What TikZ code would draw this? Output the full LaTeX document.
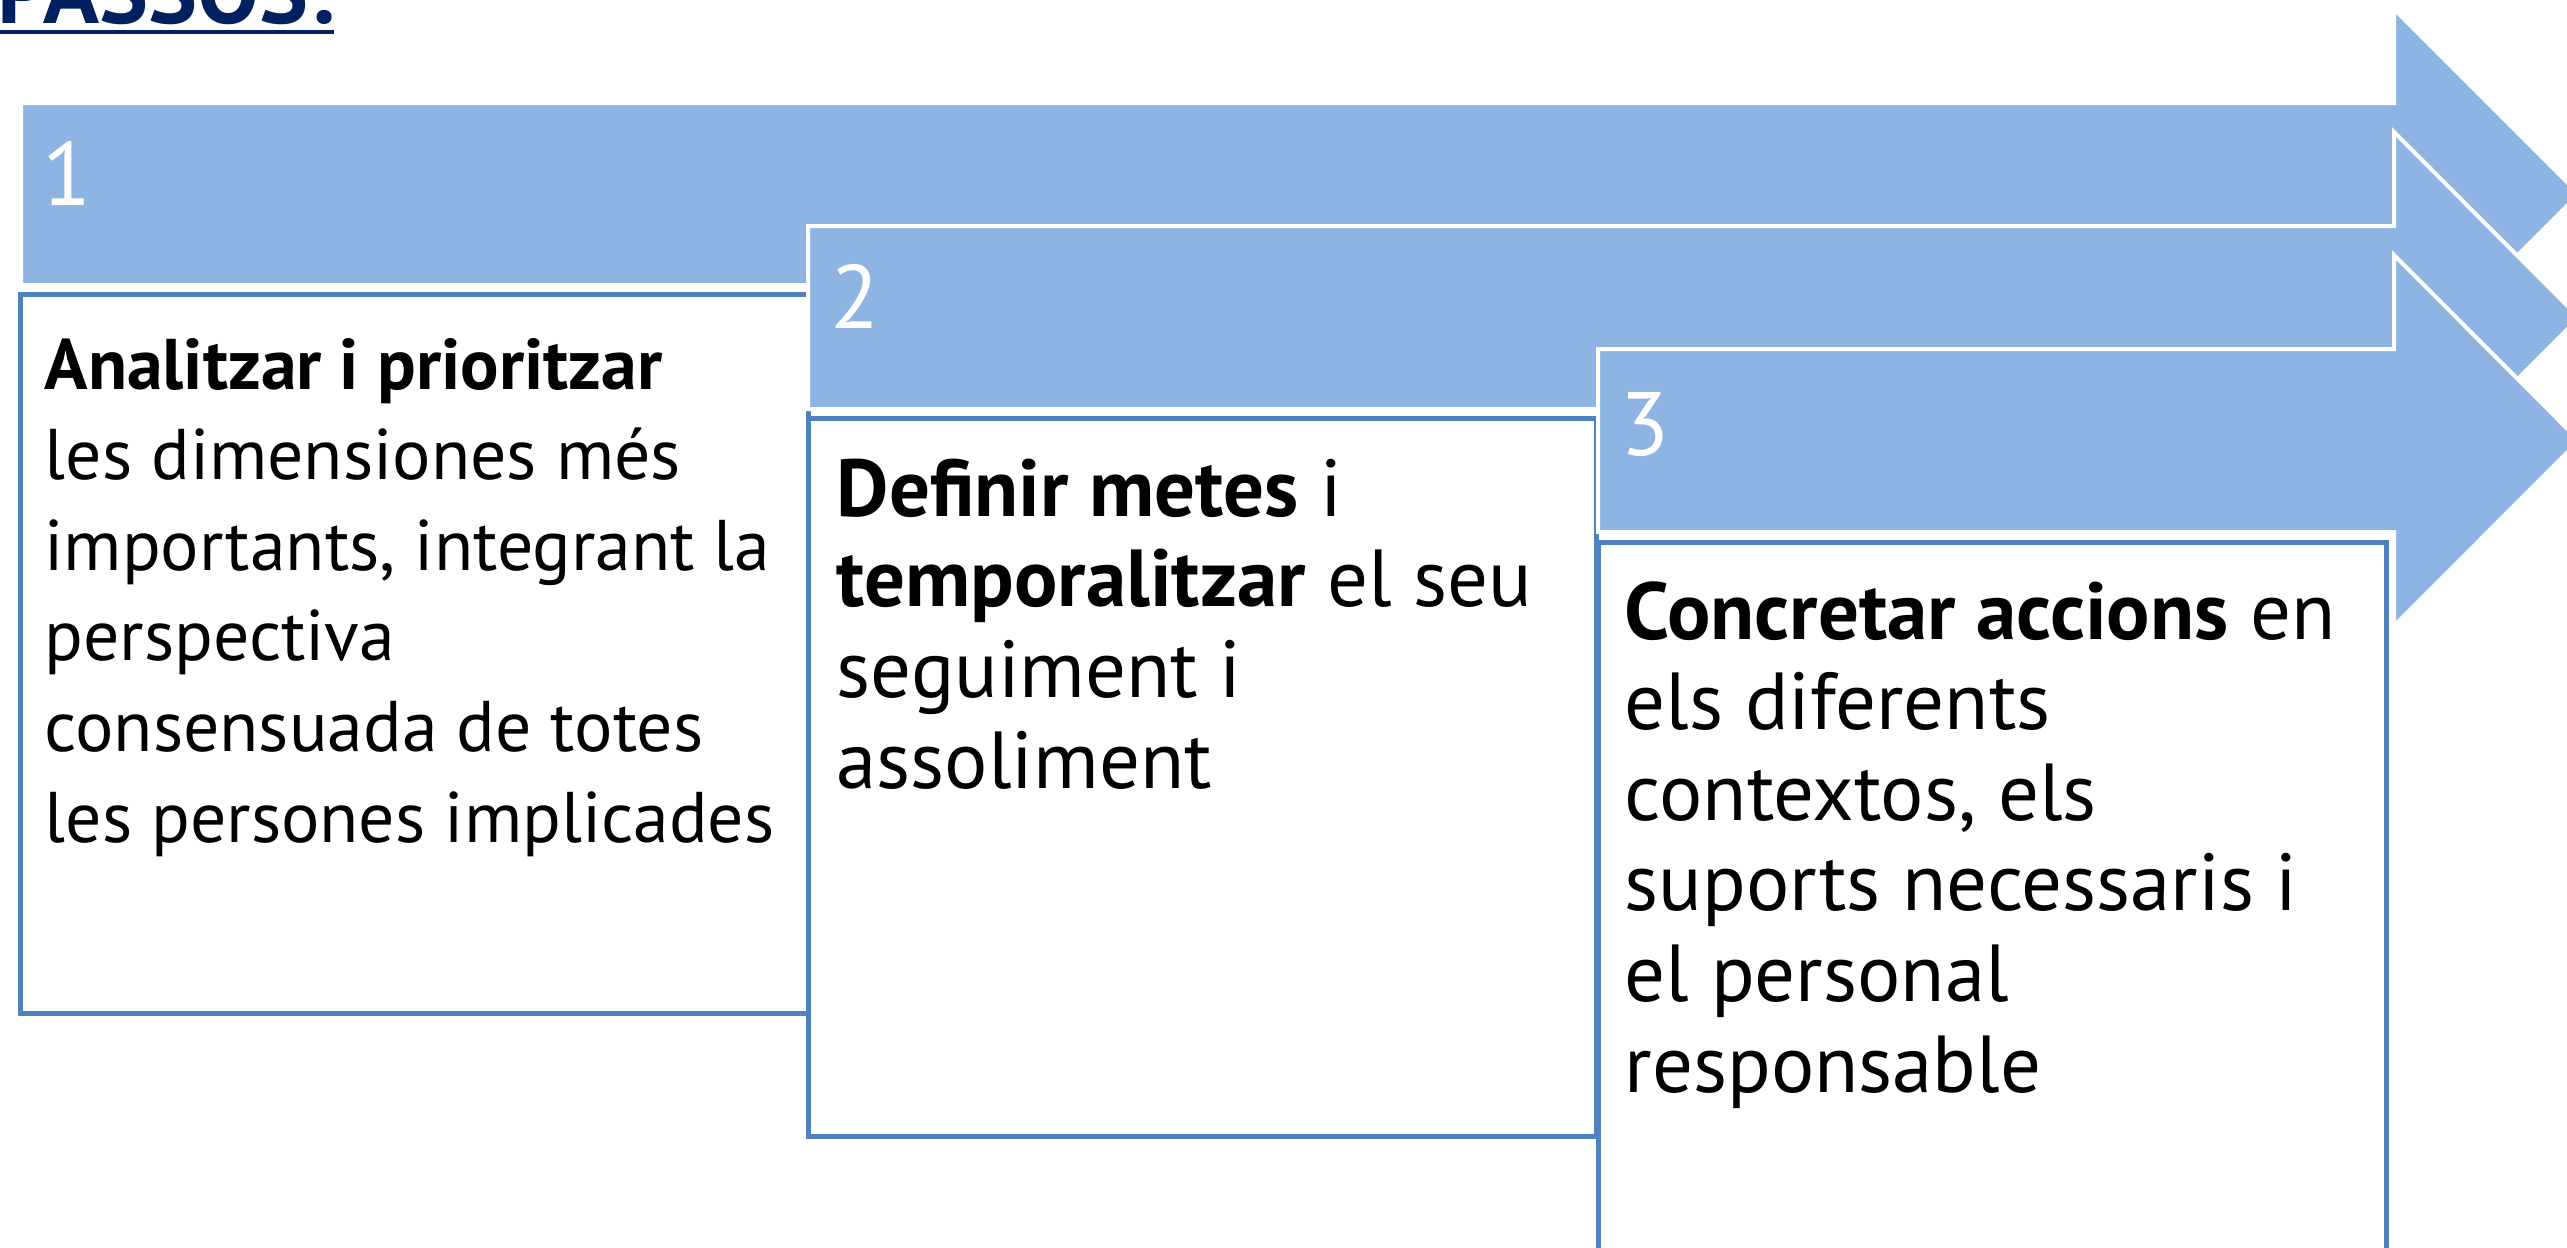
\documentclass[tikz,border=0pt]{standalone}
\usepackage{fontspec}
\setmainfont{PT Sans}
\usepackage{xcolor}
\usetikzlibrary{positioning,calc}

\definecolor{barblue}{RGB}{142,180,227}
\definecolor{boxblue}{RGB}{79,129,189}
\definecolor{titlenavy}{RGB}{0,32,96}

\begin{document}
\begin{tikzpicture}[x=0.01cm, y=-0.01cm,
    stepbar/.style={fill=barblue, draw=white, line width=0.04cm, line join=miter},
    stepbox/.style={rectangle, draw=boxblue, fill=white, line width=0.05cm, minimum width=7.87cm, minimum height=7.18cm, inner sep=0pt},
    steptext/.style={anchor=base west, align=left, inner sep=0pt, font=\fontsize{23}{25.75}\selectfont},
    stepnum/.style={anchor=base west, inner sep=0pt, text=white, font=\fontsize{25.6}{30}\selectfont}
]

\useasboundingbox (0,0) rectangle (2567,1247);

% Title
\node[anchor=base east, inner sep=0pt, text=titlenavy, font=\fontsize{26.3}{31}\selectfont\bfseries] (title) at (334,23) {PASSOS:};
\draw[titlenavy, line width=0.045cm] ($(title.base west)+(0,9)$) -- ($(title.base east)+(0,9)$);

% Step 1 (base anchor sits on the last line)
\draw[stepbar] (21,103) -- (2394,103) -- (2394,9) -- (2579,194) -- (2394,379) -- (2394,285) -- (21,285) -- cycle;
\node[stepnum] (num1) at (42,205) {1};
\node[stepbox] (box1) at (414.5,654) {};
\node[steptext, font=\fontsize{20.4}{25.75}\selectfont] (txt1) at (44,842) {\textbf{Analitzar i prioritzar}\\les dimensiones més\\importants, integrant la\\perspectiva\\consensuada de totes\\les persones implicades};

% Step 2
\draw[stepbar] (808,226) -- (2394,226) -- (2394,132) -- (2579,317.5) -- (2394,503) -- (2394,409) -- (808,409) -- cycle;
\node[stepnum] (num2) at (830,328) {2};
\node[stepbox] (box2) at (1202.5,777.5) {};
\node[steptext] (txt2) at (836,788) {\textbf{Definir metes} i\\\textbf{temporalitzar} el seu\\seguiment i\\assoliment};

% Step 3
\draw[stepbar] (1598,349) -- (2394,349) -- (2394,255) -- (2579,440.5) -- (2394,626) -- (2394,532) -- (1598,532) -- cycle;
\node[stepnum] (num3) at (1620,455) {3};
\node[stepbox] (box3) at (1992.5,902) {};
\node[steptext] (txt3) at (1624,1092) {\textbf{Concretar accions} en\\els diferents\\contextos, els\\suports necessaris i\\el personal\\responsable};

\end{tikzpicture}
\end{document}
